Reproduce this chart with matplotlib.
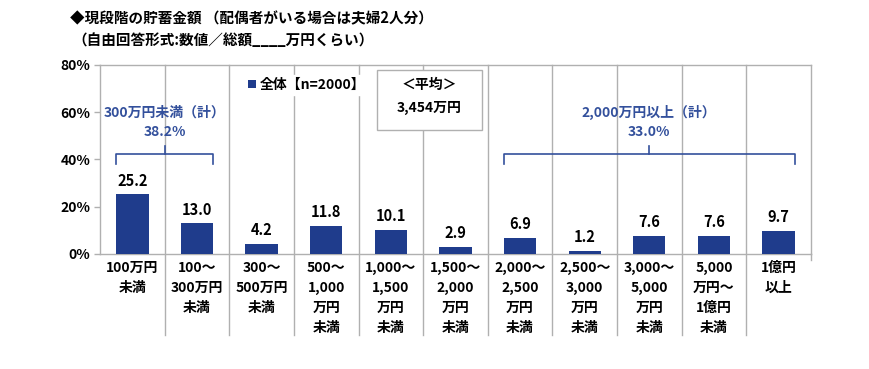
import matplotlib
matplotlib.use('Agg')
import matplotlib.pyplot as plt
from matplotlib.lines import Line2D
from matplotlib.patches import Rectangle
import matplotlib.transforms as mtransforms

plt.rcParams['font.family'] = ['Noto Sans CJK JP', 'DejaVu Sans']

# data
categories = [
    '100万円\n未満',
    '100～\n300万円\n未満',
    '300～\n500万円\n未満',
    '500～\n1,000\n万円\n未満',
    '1,000～\n1,500\n万円\n未満',
    '1,500～\n2,000\n万円\n未満',
    '2,000～\n2,500\n万円\n未満',
    '2,500～\n3,000\n万円\n未満',
    '3,000～\n5,000\n万円\n未満',
    '5,000\n万円～\n1億円\n未満',
    '1億円\n以上',
]
values = [25.2, 13.0, 4.2, 11.8, 10.1, 2.9, 6.9, 1.2, 7.6, 7.6, 9.7]
series_label = '全体【n=2000】'
y_ticks = [0, 20, 40, 60, 80]
low_group = ('300万円未満（計）', '38.2%')
high_group = ('2,000万円以上（計）', '33.0%')
average_text = ('＜平均＞', '3,454万円')

BAR_COLOR = '#1f3c8c'
GROUP_COLOR = '#33509c'
GRID_COLOR = '#b0b0b0'

fig = plt.figure(figsize=(8.7, 3.69), dpi=100)
ax = fig.add_axes([0.115, 0.312, 0.817, 0.512])

x = list(range(len(values)))
bars = ax.bar(x, values, width=0.5, color=BAR_COLOR, label=series_label, zorder=3)

for xi, v in zip(x, values):
    ax.annotate(f'{v:.1f}', (xi, v), xytext=(0, 4), textcoords='offset points',
                ha='center', va='bottom', fontsize=10.5, fontweight='bold')

ax.set_xlim(-0.5, len(values) - 0.5)
ax.set_ylim(0, 80)
ax.set_yticks(y_ticks)
ax.set_yticklabels([f'{t}%' for t in y_ticks], fontsize=10, fontweight='bold')
ax.set_xticks(x)
ax.set_xticklabels(categories, fontsize=10, fontweight='bold', linespacing=1.55, va='top')
ax.tick_params(axis='x', length=0, pad=5)
ax.tick_params(axis='y', length=4, width=1, color=GRID_COLOR, pad=3)

for s in ax.spines.values():
    s.set_color(GRID_COLOR)
    s.set_linewidth(1)

# category separators, extending down through the tick labels
trans = mtransforms.blended_transform_factory(ax.transData, ax.transAxes)
for i in range(len(values) - 1):
    ax.add_line(Line2D([i + 0.5, i + 0.5], [1, -0.43], transform=trans,
                       color=GRID_COLOR, lw=1, clip_on=False, zorder=1))
ax.add_line(Line2D([len(values) - 0.5] * 2, [0, -0.03], transform=trans,
                   color=GRID_COLOR, lw=1, clip_on=False, zorder=1))


def bracket(x0, x1, xm, label, pct, y_top=42.3, y_end=38.1, y_mid=45.5):
    ax.plot([x0, x0, x1, x1], [y_end, y_top, y_top, y_end], color=GROUP_COLOR, lw=1.2, zorder=4)
    ax.plot([xm, xm], [y_top, y_mid], color=GROUP_COLOR, lw=1.2, zorder=4)
    ax.text(xm, 60.0, label, ha='center', va='center', fontsize=10,
            fontweight='bold', color=GROUP_COLOR, zorder=5)
    ax.text(xm, 51.4, pct, ha='center', va='center', fontsize=10,
            fontweight='bold', color=GROUP_COLOR, zorder=5)


bracket(-0.25, 1.25, 0.5, *low_group)
bracket(5.75, 10.25, 8.0, *high_group)

# legend
leg = ax.legend(handles=[bars], loc='center left', bbox_to_anchor=(0.195, 0.895),
                frameon=True, fancybox=False, edgecolor='white', facecolor='white', framealpha=1,
                handlelength=0.55, handleheight=0.55, handletextpad=0.3, borderpad=0.2,
                prop={'size': 10, 'weight': 'bold'})
leg.set_zorder(6)

# average box
ax.add_patch(Rectangle((0.390, 0.656), 0.147, 0.318, transform=ax.transAxes,
                       facecolor='white', edgecolor=GRID_COLOR, lw=1, zorder=6))
ax.text(0.4635, 0.894, average_text[0], transform=ax.transAxes, ha='center', va='center',
        fontsize=10, fontweight='bold', zorder=7)
ax.text(0.4635, 0.772, average_text[1], transform=ax.transAxes, ha='center', va='center',
        fontsize=10, fontweight='bold', zorder=7)

fig.text(0.080, 0.951, '◆現段階の貯蓄金額 （配偶者がいる場合は夫婦2人分）', fontsize=10.5,
         fontweight='bold', va='center', ha='left')
fig.text(0.083, 0.892, '（自由回答形式:数値／総額____万円くらい）', fontsize=10.5,
         fontweight='bold', va='center', ha='left')

fig.savefig('out.png', dpi=100)
